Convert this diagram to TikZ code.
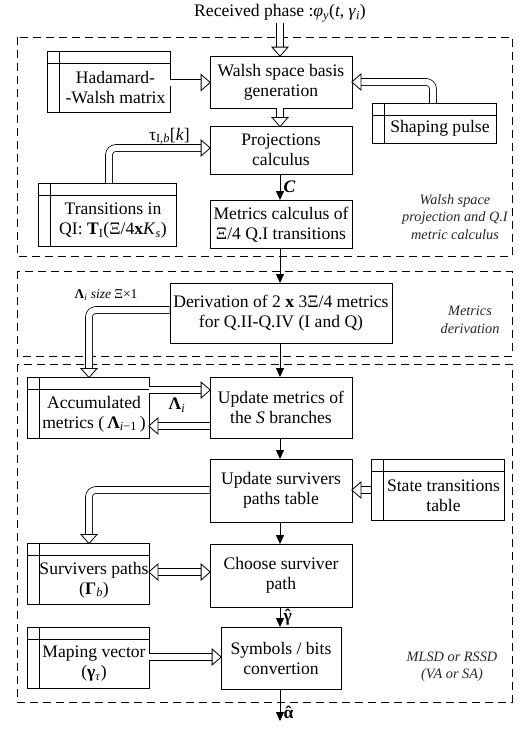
\documentclass[tikz,border=0pt]{standalone}
\usepackage{fontspec}
\setmainfont{Liberation Serif}
\usetikzlibrary{arrows.meta,decorations.markings}
\newcommand{\mainfs}{\fontsize{17.6}{20}\selectfont}
\newcommand{\notefs}{\fontsize{14.3}{17.5}\selectfont\itshape}
\newcommand{\smallfs}{\fontsize{13.5}{15}\selectfont}
\newcommand{\hatof}[1]{\ooalign{\textbf{#1}\cr\hidewidth\textbf{ˆ}\hidewidth\cr}}
\begin{document}
\begin{tikzpicture}[x=1pt,y=-1pt,
  line width=0.8pt,
  box/.style={draw, rectangle, inner sep=0pt, align=center, font=\mainfs},
  store/.style={draw, rectangle, inner sep=0pt, path picture={
     \draw ([yshift=-12pt]path picture bounding box.north west) -- ([yshift=-12pt]path picture bounding box.north east);
     \draw ([xshift=12pt]path picture bounding box.north west) -- ([xshift=12pt]path picture bounding box.south west);}},
  txt/.style={align=center, inner sep=0pt, font=\mainfs},
  note/.style={align=center, inner sep=0pt, font=\notefs, text=black!85},
  lab/.style={inner sep=1pt, font=\mainfs},
  region/.style={draw, dash pattern=on 8pt off 5pt},
  headend/.style={decoration={markings, mark=at position 1 with {\draw[sharp corners, fill=white, line width=0.8pt, line join=miter] (0.6pt,0) -- (-8.5pt,8pt) -- (-8.5pt,-8pt) -- cycle;}}},
  headstart/.style={decoration={markings, mark=at position 0 with {\draw[sharp corners, fill=white, line width=0.8pt, line join=miter] (-0.6pt,0) -- (8.5pt,8pt) -- (8.5pt,-8pt) -- cycle;}}},
  dar/.style={double, double distance=6pt, line width=0.8pt, shorten >=5pt, postaction={decorate, headend}},
  dbar/.style={double, double distance=6pt, line width=0.8pt, shorten >=5pt, shorten <=5pt, postaction={decorate, headend}, postaction={decorate, headstart}},
  sar/.style={-{Triangle[length=9pt,width=8pt]}},
]
\useasboundingbox (0,0) rectangle (527,729);
% regions
\draw[region] (17,37) rectangle (512,256);
\draw[region] (17,271) rectangle (512,356);
\draw[region] (17,364) rectangle (512,702);
% title
\node[lab] (title) at (280,13) {Received phase :\textit{φ}\textsubscript{\textit{y}}(\textit{t}, \textit{γ}\textsubscript{\textit{i}})};
\coordinate (in) at (280,23);
% main column
\node[box, minimum width=142, minimum height=52] (walsh) at (281,82) {Walsh space basis\\generation};
\node[box, minimum width=142, minimum height=48] (proj) at (281,150) {Projections\\calculus};
\node[box, minimum width=142, minimum height=48] (metr) at (281,224.5) {Metrics calculus of\\Ξ/4 Q.I transitions};
\node[box, minimum width=222, minimum height=60] (deriv) at (281,313) {Derivation of 2 \textbf{x} 3Ξ/4 metrics\\for Q.II-Q.IV (I and Q)};
\node[box, minimum width=142, minimum height=61] (upd) at (281,407.5) {Update metrics of\\the \textit{S} branches};
\node[box, minimum width=142, minimum height=63] (surv) at (281,490.5) {Update survivers\\paths table};
\node[box, minimum width=142, minimum height=63] (choose) at (281,575.5) {Choose surviver\\path};
\node[box, minimum width=120, minimum height=62] (symb) at (281,658) {Symbols / bits\\convertion};
\coordinate (out) at (280,721);
% stores
\node[store, minimum width=123, minimum height=61] (had) at (108.5,81.5) {};
\node[txt] (hadT) at (115.5,88) {Hadamard-\\-Walsh matrix};
\node[store, minimum width=124, minimum height=40] (shape) at (434,123) {};
\node[txt] (shapeT) at (440,128.5) {Shaping pulse};
\node[store, minimum width=138, minimum height=63] (trans) at (107,214.5) {};
\node[txt] (transT) at (113,221) {Transitions in\\QI: \textbf{T}\textsubscript{I}(Ξ/4\textbf{x}\textit{K}\textsubscript{\textit{s}})};
\node[store, minimum width=122, minimum height=61] (acc) at (88,407.5) {};
\node[txt] (accT) at (94,414) {Accumulated\\metrics (\,\textbf{Λ}\textsubscript{\textit{i}−1}\,)};
\node[store, minimum width=133, minimum height=61] (state) at (437.5,489.5) {};
\node[txt] (stateT) at (443.5,496) {State transitions\\table};
\node[store, minimum width=122, minimum height=61] (survp) at (88,573.5) {};
\node[txt] (survpT) at (94,580) {Survivers paths\\(\textbf{Γ}\textsubscript{\textit{b}})};
\node[store, minimum width=122, minimum height=61] (map) at (88,657.5) {};
\node[txt] (mapT) at (94,664) {Maping vector\\(\textbf{γ}\textsubscript{\textit{τ}})};
% notes
\node[note] (n1) at (455,217) {Walsh space\\projection and Q.I\\metric calculus};
\node[note] (n2) at (470,320) {Metrics\\derivation};
\node[note] (n3) at (452,667) {MLSD or RSSD\\(VA or SA)};
% connectors
\draw[dar] (in) -- (in |- walsh.north);
\draw[dar] (had.east |- 0,82.5) -- (walsh.west |- 0,82.5);
\draw[dar, rounded corners=7pt] (433,103) |- (walsh.east);
\draw[dar] (280,108) -- (280,126);
\draw[dar, rounded corners=7pt] (109,183) |- (proj.west |- 0,148) node[pos=0.8, above, font=\mainfs, inner sep=3pt] (tau) {τ\textsubscript{I,\textit{b}}[\textit{k}]};
\draw[sar] (280,174) -- (280,200) node[midway, right, font=\mainfs\bfseries\itshape] (Clab) {C};
\draw[sar] (280,248.5) -- (280,283);
\draw[dar, rounded corners=7pt] (deriv.west |- 0,310) -| (89,377);
\node[font=\smallfs, inner sep=0pt] (lamsize) at (106,295) {\textbf{Λ}\textsubscript{\textit{i}} \textit{size} Ξ×1};
\draw[sar] (280,343) -- (280,377);
\draw[dar] (acc.east |- 0,390) -- (upd.west |- 0,390);
\draw[dar] (upd.west |- 0,426) -- (acc.east |- 0,426);
\node[font=\mainfs, inner sep=0pt] (lami) at (177,405) {\textbf{Λ}\textsubscript{\textit{i}}};
\draw[sar] (280,438) -- (280,459);
\draw[dar] (state.west |- 0,490) -- (surv.east |- 0,490);
\draw[dar, rounded corners=7pt] (surv.west |- 0,490) -| (89,543);
\draw[dbar] (survp.east |- 0,572) -- (choose.west |- 0,572);
\draw[sar] (280,522) -- (280,544);
\draw[sar] (280,607) -- (280,627) node[midway, right, font=\mainfs] (ghat) {\hatof{γ}};
\draw[dar] (map.east |- 0,657) -- (symb.west |- 0,657);
\draw[sar] (280,689) -- (out) node[pos=0.8, right, font=\mainfs] (ahat) {\hatof{α}};
\end{tikzpicture}
\end{document}
